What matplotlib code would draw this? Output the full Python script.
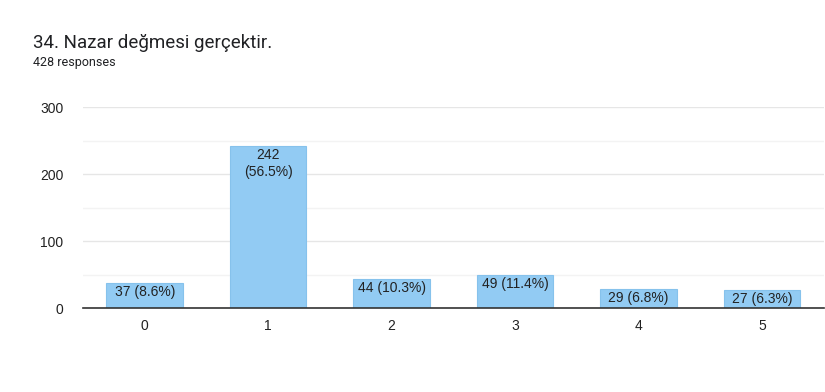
import matplotlib.pyplot as plt
from matplotlib.ticker import MultipleLocator

categories = ['0', '1', '2', '3', '4', '5']
counts = [37, 242, 44, 49, 29, 27]
labels = ['37 (8.6%)', '242\n(56.5%)', '44 (10.3%)', '49 (11.4%)', '29 (6.8%)', '27 (6.3%)']

plt.rcParams['font.family'] = ['Liberation Sans', 'DejaVu Sans']

fig = plt.figure(figsize=(8.25, 3.92), dpi=100)
ax = fig.add_axes([0.1006, 0.214, 0.898, 0.513])

x = range(len(categories))
bars = ax.bar(x, counts, width=0.62, color='#92cbf3', edgecolor='#86c2ec', linewidth=0.8, zorder=3)

for b, lab in zip(bars, labels):
    ax.text(b.get_x() + b.get_width() / 2, b.get_height() - 3, lab,
            ha='center', va='top', fontsize=10, color='#222222', zorder=4,
            linespacing=1.3)

ax.set_xlim(-0.5, 5.5)
ax.set_ylim(0, 300)
ax.yaxis.set_major_locator(MultipleLocator(100))
ax.yaxis.set_minor_locator(MultipleLocator(50))
ax.grid(axis='y', which='major', color='#e6e6e6', linewidth=1, zorder=0)
ax.grid(axis='y', which='minor', color='#f3f3f3', linewidth=1, zorder=0)
ax.set_xticks(list(x))
ax.set_xticklabels(categories)
ax.tick_params(axis='both', which='both', length=0, labelsize=10, colors='#222222')
ax.tick_params(axis='x', pad=8)
ax.tick_params(axis='y', pad=14)
for s in ['top', 'right', 'left']:
    ax.spines[s].set_visible(False)
ax.spines['bottom'].set_color('#333333')
ax.spines['bottom'].set_linewidth(1.2)
ax.spines['bottom'].set_zorder(5)

fig.text(0.04, 0.89, '34. Nazar değmesi gerçektir.', fontsize=13.5, color='#202124',
         va='center', family=['Roboto', 'DejaVu Sans'])
fig.text(0.04, 0.84, '428 responses', fontsize=9, color='#202124',
         va='center', family=['Roboto', 'DejaVu Sans'])

fig.savefig('out.png', dpi=100, facecolor='white')
